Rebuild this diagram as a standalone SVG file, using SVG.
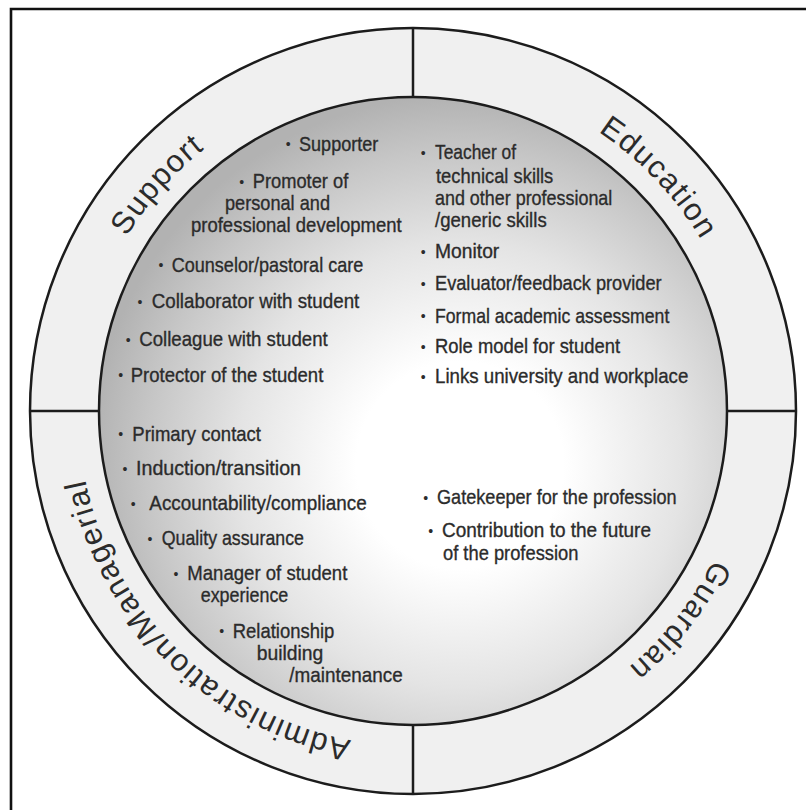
<svg xmlns="http://www.w3.org/2000/svg" width="806" height="810" viewBox="0 0 806 810">
<defs>
<radialGradient id="glow" gradientUnits="userSpaceOnUse" cx="460" cy="465" r="370" fx="460" fy="465">
<stop offset="0" stop-color="#ffffff"/>
<stop offset="0.28" stop-color="#ffffff"/>
<stop offset="0.6" stop-color="#e4e4e4"/>
<stop offset="0.85" stop-color="#c6c6c6"/>
<stop offset="1" stop-color="#b2b2b2"/>
</radialGradient>
<path id="arcSupport" d="M95.3,517.3 A335,335 0 0 1 479.8,82.7"/>
<path id="arcEducation" d="M334.8,85.2 A335,335 0 0 1 734.2,506.1"/>
<path id="arcGuardian" d="M724.0,286.6 A335,335 0 0 1 365.2,742.6"/>
<path id="arcAdmin" d="M502.5,733.8 A335,335 0 0 1 88.7,327.1"/>
</defs>
<style>
.ln{stroke:#1c1c1c;stroke-width:2.5}
.ring{fill:#f0f0f0}
.core{fill:url(#glow)}
.t{font-family:"Liberation Sans",Arial,sans-serif;font-size:21px;fill:#2b2b2b;stroke:#2b2b2b;stroke-width:0.35}
.b{font-family:"Liberation Sans",Arial,sans-serif;font-size:14px;fill:#2b2b2b;text-anchor:middle}
.lab{font-family:"Liberation Sans",Arial,sans-serif;font-size:31px;fill:#2b2b2b;letter-spacing:1.5px;text-anchor:middle}
</style>
<rect x="0" y="0" width="806" height="810" fill="#ffffff"/>
<path d="M11,810 V9 H806" stroke="#111" stroke-width="2.6" fill="none"/>
<g id="wheel">
<circle cx="413" cy="411" r="383" class="ln ring"/>
<circle cx="413" cy="411" r="314" class="ln core"/>
</g>
<g id="dividers">
<line x1="413" y1="28" x2="413" y2="97" class="ln"/>
<line x1="413" y1="725" x2="413" y2="794" class="ln"/>
<line x1="30" y1="411" x2="99" y2="411" class="ln"/>
<line x1="727" y1="411" x2="796" y2="411" class="ln"/>
</g>
<g id="support">
<text class="lab"><textPath href="#arcSupport" startOffset="50%">Support</textPath></text>
<text class="b" x="288.3" y="149">•</text><text class="t" x="299" y="150.5" textLength="79.3" lengthAdjust="spacingAndGlyphs">Supporter</text>
<text class="b" x="241.7" y="187">•</text><text class="t" x="252.7" y="188.3" textLength="95.6" lengthAdjust="spacingAndGlyphs">Promoter of</text>
<text class="t" x="225" y="210" textLength="105" lengthAdjust="spacingAndGlyphs">personal and</text>
<text class="t" x="191" y="231.7" textLength="210.7" lengthAdjust="spacingAndGlyphs">professional development</text>
<text class="b" x="161" y="270">•</text><text class="t" x="171.7" y="271.7" textLength="191.6" lengthAdjust="spacingAndGlyphs">Counselor/pastoral care</text>
<text class="b" x="140" y="307">•</text><text class="t" x="151.7" y="308.3" textLength="207.6" lengthAdjust="spacingAndGlyphs">Collaborator with student</text>
<text class="b" x="128.3" y="344.5">•</text><text class="t" x="139.3" y="346" textLength="188.4" lengthAdjust="spacingAndGlyphs">Colleague with student</text>
<text class="b" x="120.7" y="380">•</text><text class="t" x="130.7" y="381.7" textLength="192.6" lengthAdjust="spacingAndGlyphs">Protector of the student</text>
</g>
<g id="education">
<text class="lab"><textPath href="#arcEducation" startOffset="50%">Education</textPath></text>
<text class="b" x="423.3" y="158">•</text><text class="t" x="435" y="159.3" textLength="81" lengthAdjust="spacingAndGlyphs">Teacher of</text>
<text class="t" x="436" y="183" textLength="117.3" lengthAdjust="spacingAndGlyphs">technical skills</text>
<text class="t" x="435" y="205" textLength="177.3" lengthAdjust="spacingAndGlyphs">and other professional</text>
<text class="t" x="435" y="227.3" textLength="111.7" lengthAdjust="spacingAndGlyphs">/generic skills</text>
<text class="b" x="423.3" y="257">•</text><text class="t" x="435" y="258.3" textLength="64.3" lengthAdjust="spacingAndGlyphs">Monitor</text>
<text class="b" x="423.3" y="288.5">•</text><text class="t" x="435" y="290" textLength="226.7" lengthAdjust="spacingAndGlyphs">Evaluator/feedback provider</text>
<text class="b" x="423.3" y="321">•</text><text class="t" x="435" y="322.5" textLength="234.3" lengthAdjust="spacingAndGlyphs">Formal academic assessment</text>
<text class="b" x="423.3" y="351.5">•</text><text class="t" x="435" y="353" textLength="185" lengthAdjust="spacingAndGlyphs">Role model for student</text>
<text class="b" x="423.3" y="381.5">•</text><text class="t" x="435" y="383" textLength="253.3" lengthAdjust="spacingAndGlyphs">Links university and workplace</text>
</g>
<g id="administration">
<text class="lab"><textPath href="#arcAdmin" startOffset="50%">Administration/Managerial</textPath></text>
<text class="b" x="120.7" y="439">•</text><text class="t" x="132.3" y="440.7" textLength="128.7" lengthAdjust="spacingAndGlyphs">Primary contact</text>
<text class="b" x="125" y="473.5">•</text><text class="t" x="136" y="475" textLength="165" lengthAdjust="spacingAndGlyphs">Induction/transition</text>
<text class="b" x="133.3" y="508.5">•</text><text class="t" x="149.3" y="510" textLength="217.4" lengthAdjust="spacingAndGlyphs">Accountability/compliance</text>
<text class="b" x="150" y="543.5">•</text><text class="t" x="161.7" y="545" textLength="142.3" lengthAdjust="spacingAndGlyphs">Quality assurance</text>
<text class="b" x="176" y="578.5">•</text><text class="t" x="187.3" y="580" textLength="160" lengthAdjust="spacingAndGlyphs">Manager of student</text>
<text class="t" x="200.7" y="601.7" textLength="87.6" lengthAdjust="spacingAndGlyphs">experience</text>
<text class="b" x="221.7" y="636">•</text><text class="t" x="232.7" y="637.7" textLength="101.6" lengthAdjust="spacingAndGlyphs">Relationship</text>
<text class="t" x="256.7" y="660" textLength="66.6" lengthAdjust="spacingAndGlyphs">building</text>
<text class="t" x="289.3" y="681.7" textLength="113.4" lengthAdjust="spacingAndGlyphs">/maintenance</text>
</g>
<g id="guardian">
<text class="lab"><textPath href="#arcGuardian" startOffset="50%">Guardian</textPath></text>
<text class="b" x="425.7" y="502.5">•</text><text class="t" x="437" y="504" textLength="239.6" lengthAdjust="spacingAndGlyphs">Gatekeeper for the profession</text>
<text class="b" x="430.8" y="535.5">•</text><text class="t" x="442" y="537" textLength="209" lengthAdjust="spacingAndGlyphs">Contribution to the future</text>
<text class="t" x="443" y="560" textLength="135.4" lengthAdjust="spacingAndGlyphs">of the profession</text>
</g>
</svg>
